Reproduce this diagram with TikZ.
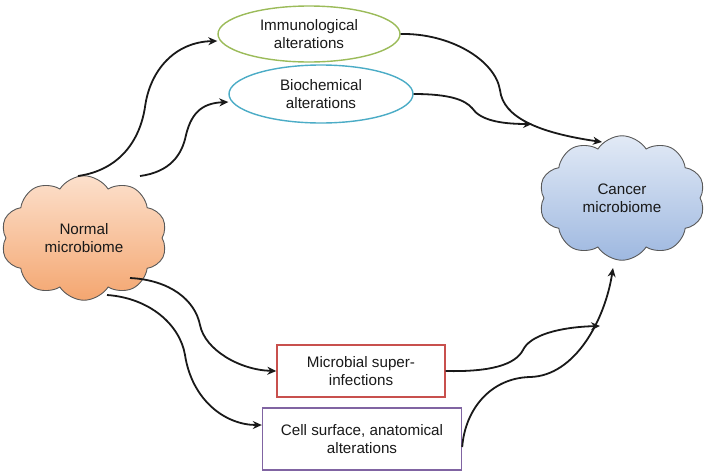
\documentclass[tikz,border=0pt]{standalone}
\usepackage{fontspec}
\setmainfont{Liberation Sans}
\usetikzlibrary{shapes.geometric,shapes.symbols,arrows.meta}
\definecolor{immc}{RGB}{155,187,89}
\definecolor{bioc}{RGB}{75,172,198}
\definecolor{micc}{RGB}{200,80,77}
\definecolor{celc}{RGB}{128,100,162}
\definecolor{arrc}{RGB}{25,25,25}
\definecolor{normtop}{RGB}{252,224,204}
\definecolor{normbot}{RGB}{244,166,112}
\definecolor{cantop}{RGB}{226,234,246}
\definecolor{canbot}{RGB}{158,184,224}
\begin{document}
\begin{tikzpicture}[x=1pt,y=-1pt,
  lbl/.style={align=center,font=\fontsize{15.2}{18}\selectfont,text=black!90},
  ell/.style={lbl,ellipse,draw,line width=1.4pt,fill=white,inner sep=0pt},
  boxn/.style={lbl,rectangle,draw,line width=1.4pt,fill=white,inner sep=0pt},
  cloudn/.style={lbl,cloud,cloud puffs=10,cloud puff arc=115,draw=black!65,line width=0.9pt,inner sep=0pt},
  conn/.style={draw=arrc,line width=1.8pt,-{Stealth[length=9pt,width=8pt]}}]
\useasboundingbox (0,0) rectangle (708,472);
% nodes
\node[cloudn,minimum width=166pt,minimum height=120pt,top color=normtop,bottom color=normbot] (norm) at (84,238) {Normal\\microbiome};
\node[cloudn,minimum width=166pt,minimum height=114pt,top color=cantop,bottom color=canbot] (can) at (622,198) {Cancer\\microbiome};
\node[ell,draw=immc,minimum width=182pt,minimum height=56pt] (imm) at (309,34) {Immunological\\alterations};
\node[ell,draw=bioc,minimum width=184pt,minimum height=58pt] (bio) at (321,94) {Biochemical\\alterations};
\node[boxn,draw=micc,minimum width=168pt,minimum height=52pt] (mic) at (361,371) {Microbial super-\\infections};
\node[boxn,draw=celc,minimum width=199pt,minimum height=62pt] (cel) at (362,439) {Cell surface, anatomical\\alterations};
% connector coordinates
\coordinate (n1) at (78,176);
\coordinate (n2) at (140,176);
\coordinate (n3) at (130,278);
\coordinate (n4) at (107,295);
\coordinate (c1) at (602,142);
\coordinate (m1) at (532,124);
\coordinate (m2) at (600,326);
\coordinate (c2) at (613,268);
% connectors
\draw[conn] (n1) .. controls (120,170) and (140,140) .. (145,107) .. controls (150,70) and (175,42) .. ([yshift=-7pt]imm.west);
\draw[conn] (n2) .. controls (170,172) and (182,155) .. (186,135) .. controls (192,110) and (205,103) .. ([yshift=-8pt]bio.west);
\draw[conn] (imm.east) .. controls (450,33) and (495,60) .. (500,90) .. controls (503,118) and (540,133) .. (c1);
\draw[conn] (bio.east) .. controls (450,94) and (465,100) .. (472,108) .. controls (480,120) and (500,124) .. (m1);
\draw[conn] (n3) .. controls (170,280) and (195,300) .. (200,325) .. controls (205,350) and (240,370) .. (mic.west);
\draw[conn] (n4) .. controls (150,298) and (180,325) .. (185,355) .. controls (192,400) and (225,425) .. ([yshift=14pt]cel.west);
\draw[conn] (mic.east) .. controls (490,372) and (515,365) .. (523,350) .. controls (530,335) and (560,327) .. (m2);
\draw[conn] ([yshift=-8pt]cel.east) .. controls (465,410) and (490,378) .. (530,377) .. controls (575,376) and (605,320) .. (c2);
\end{tikzpicture}
\end{document}
